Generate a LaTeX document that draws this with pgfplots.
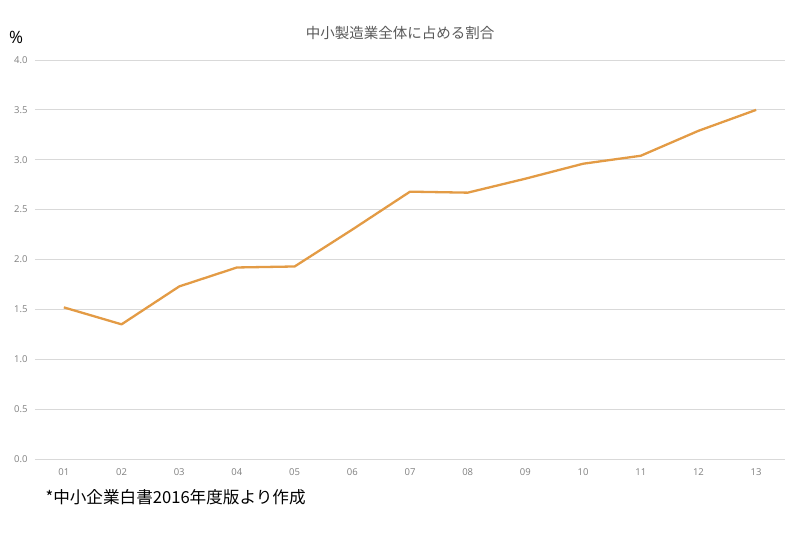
\documentclass[border=0pt]{standalone}
\usepackage{pgfplots}
\pgfplotsset{compat=1.18}
\usepackage{fontspec}
\setmainfont{Open Sans}
\newfontfamily\cjk{Noto Sans CJK JP}
\definecolor{lineor}{HTML}{E39B45}
\definecolor{gridc}{HTML}{D9D9D9}
\definecolor{tickc}{HTML}{7F7F7F}
\definecolor{titlec}{HTML}{595959}
\begin{document}
\begin{tikzpicture}[x=1pt,y=1pt]
\path[use as bounding box] (0,0) rectangle (800,554);
\begin{axis}[
    at={(35pt,95pt)}, anchor=south west,
    scale only axis, width=750pt, height=399pt,
    xmin=0.5, xmax=13.5, ymin=0, ymax=4,
    xtick={1,...,13},
    xticklabels={01,02,03,04,05,06,07,08,09,10,11,12,13},
    ytick={0,0.5,...,4},
    yticklabel style={/pgf/number format/fixed, /pgf/number format/fixed zerofill,
        /pgf/number format/precision=1, xshift=-4pt},
    /pgf/number format/assume math mode=true,
    ymajorgrids, grid style={gridc, line width=0.8pt},
    axis x line*=bottom, axis y line*=left,
    x axis line style={gridc, line width=0.8pt, -},
    y axis line style={draw=none},
    major tick length=0pt,
    tick label style={font=\fontsize{9.5}{11}\selectfont, text=tickc},
    xticklabel style={yshift=-6pt},
]
\addplot[lineor, line width=2.3pt, line join=round] coordinates {
    (1,1.52) (2,1.35) (3,1.73) (4,1.92) (5,1.93) (6,2.30) (7,2.68)
    (8,2.67) (9,2.81) (10,2.96) (11,3.04) (12,3.29) (13,3.50)};
\end{axis}
\node[text=titlec, font=\cjk\fontsize{14.5}{17}\selectfont] at (400,521) {中小製造業全体に占める割合};
\node[font=\fontsize{17}{19}\selectfont] at (16,517) {\%};
\node[anchor=west, font=\cjk\fontsize{16.6}{19}\selectfont] at (42,57) {*中小企業白書2016年度版より作成};
\end{tikzpicture}
\end{document}
